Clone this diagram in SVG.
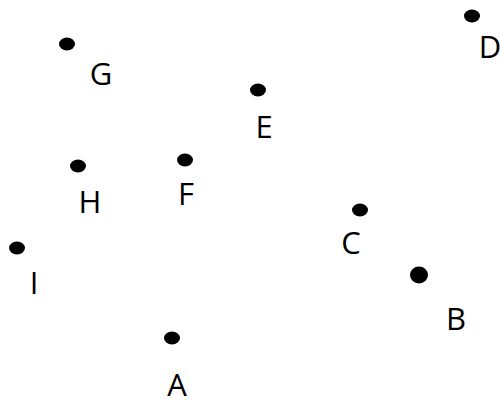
<svg xmlns="http://www.w3.org/2000/svg" width="500" height="404" viewBox="0 0 500 404">
  <style>
    .pt { fill: #000; }
    .lbl { font-family: "Open Sans", "Liberation Sans", sans-serif; font-size: 31px; fill: #000; text-anchor: middle; }
  </style>
  <rect width="500" height="404" fill="#fff"/>
  <g id="connectors"/>
  <g id="node-G"><ellipse class="pt" cx="67" cy="44" rx="8" ry="6.5"/><text class="lbl" x="101" y="85">G</text></g>
  <g id="node-D"><ellipse class="pt" cx="472" cy="16" rx="8" ry="6.5"/><text class="lbl" x="490" y="58">D</text></g>
  <g id="node-E"><ellipse class="pt" cx="258" cy="90" rx="8" ry="6.5"/><text class="lbl" x="264" y="138">E</text></g>
  <g id="node-H"><ellipse class="pt" cx="78" cy="166" rx="8" ry="6.5"/><text class="lbl" x="90" y="213">H</text></g>
  <g id="node-F"><ellipse class="pt" cx="185" cy="160" rx="8" ry="6.5"/><text class="lbl" x="186" y="205">F</text></g>
  <g id="node-C"><ellipse class="pt" cx="360" cy="210" rx="8" ry="6.5"/><text class="lbl" x="351" y="254">C</text></g>
  <g id="node-I"><ellipse class="pt" cx="17" cy="248" rx="8" ry="6.5"/><text class="lbl" x="34" y="294">I</text></g>
  <g id="node-B"><ellipse class="pt" cx="419" cy="275" rx="9" ry="8.5"/><text class="lbl" x="456" y="330">B</text></g>
  <g id="node-A"><ellipse class="pt" cx="172" cy="338" rx="8" ry="6.5"/><text class="lbl" x="177" y="396">A</text></g>
</svg>
